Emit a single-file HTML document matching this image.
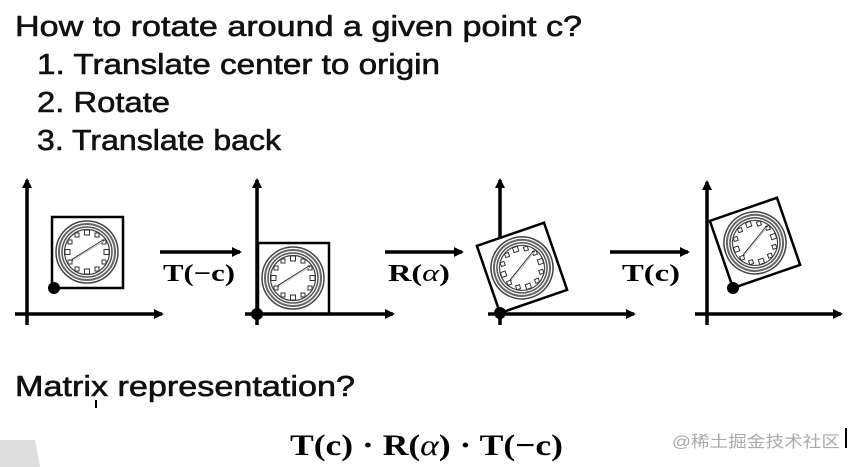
<!DOCTYPE html>
<html><head><style>
html,body{margin:0;padding:0;background:#fff;width:849px;height:467px;overflow:hidden}
svg{display:block}
</style></head><body>
<svg width="849" height="467" viewBox="0 0 849 467" xmlns="http://www.w3.org/2000/svg">
<defs>
<g id="clk">
<circle r="31" fill="#fff" stroke="#444" stroke-width="1.5"/>
<circle r="28" fill="none" stroke="#666" stroke-width="2"/>
<circle r="25" fill="none" stroke="#555" stroke-width="1.5"/>
<circle r="22.5" fill="#fff" stroke="#444" stroke-width="1.2"/>
<g fill="none" stroke="#333" stroke-width="1">
<rect x="-2.5" y="-22" width="5" height="5"/>
<rect x="-2.5" y="17" width="5" height="5"/>
<rect x="-22" y="-2.5" width="5" height="5"/>
<rect x="17" y="-2.5" width="5" height="5"/>
<rect x="8" y="-19" width="4" height="4"/>
<rect x="-12" y="-19" width="4" height="4"/>
<rect x="8" y="15" width="4" height="4"/>
<rect x="-12" y="15" width="4" height="4"/>
<rect x="15" y="-12" width="4" height="4"/>
<rect x="-19" y="-12" width="4" height="4"/>
<rect x="15" y="8" width="4" height="4"/>
<rect x="-19" y="8" width="4" height="4"/>
</g>
<line x1="-15" y1="8" x2="17" y2="-12" stroke="#333" stroke-width="2"/>
<line x1="-14" y1="8" x2="16" y2="-11" stroke="#fff" stroke-width="0.8"/>
</g>
<marker id="ah" markerWidth="10" markerHeight="10" refX="8" refY="5" orient="auto" markerUnits="userSpaceOnUse">
<path d="M0,0 L10,5 L0,10 z" fill="#000"/>
</marker>
</defs>

<g font-family="Liberation Sans, sans-serif" fill="#111" stroke="#111" stroke-width="0.6">
<text x="15" y="36" font-size="29" textLength="567" lengthAdjust="spacingAndGlyphs">How to rotate around a given point c?</text>
<text x="37" y="74" font-size="29" textLength="403" lengthAdjust="spacingAndGlyphs">1. Translate center to origin</text>
<text x="37" y="112" font-size="29" textLength="133" lengthAdjust="spacingAndGlyphs">2. Rotate</text>
<text x="37" y="150" font-size="29" textLength="244" lengthAdjust="spacingAndGlyphs">3. Translate back</text>
<text x="15" y="396" font-size="29" textLength="340" lengthAdjust="spacingAndGlyphs">Matrix representation?</text>
</g>

<g stroke="#000" stroke-width="3.5" fill="none" marker-end="url(#ah)">
<line x1="27" y1="325" x2="27" y2="180"/>
<line x1="15" y1="314" x2="162" y2="314"/>
<line x1="257" y1="325" x2="257" y2="180"/>
<line x1="245" y1="314" x2="393" y2="314"/>
<line x1="500" y1="325" x2="500" y2="180"/>
<line x1="488" y1="314" x2="634" y2="314"/>
<line x1="707" y1="325" x2="707" y2="182"/>
<line x1="695" y1="314" x2="841" y2="314"/>
<line x1="160" y1="252" x2="240" y2="252"/>
<line x1="385" y1="252" x2="462" y2="252"/>
<line x1="610" y1="252" x2="688" y2="252"/>
</g>

<!-- panel 1 -->
<rect x="52" y="217" width="71" height="71" fill="none" stroke="#000" stroke-width="2.5"/>
<use href="#clk" transform="translate(87,252)"/>
<circle cx="54" cy="288" r="6" fill="#000"/>
<!-- panel 2 -->
<rect x="258" y="243" width="71" height="71" fill="none" stroke="#000" stroke-width="2.5"/>
<use href="#clk" transform="translate(293,278)"/>
<circle cx="257" cy="314" r="6" fill="#000"/>
<!-- panel 3 -->
<g transform="translate(500,313) rotate(-19)">
<rect x="0" y="-71" width="71" height="71" fill="#fff" stroke="#000" stroke-width="2.5"/>
<use href="#clk" transform="translate(35.5,-35.5)"/>
</g>
<circle cx="500" cy="313" r="6" fill="#000"/>
<!-- panel 4 -->
<g transform="translate(733,288) rotate(-19)">
<rect x="0" y="-71" width="71" height="71" fill="#fff" stroke="#000" stroke-width="2.5"/>
<use href="#clk" transform="translate(35.5,-35.5)"/>
</g>
<circle cx="733" cy="288" r="6" fill="#000"/>

<g font-family="Liberation Serif, serif" font-weight="bold" font-size="24" fill="#000">
<text x="163" y="281" textLength="72" lengthAdjust="spacingAndGlyphs">T(−c)</text>
<text x="388" y="281" textLength="62" lengthAdjust="spacingAndGlyphs">R(<tspan font-weight="normal" font-style="italic">α</tspan>)</text>
<text x="622" y="281" textLength="58" lengthAdjust="spacingAndGlyphs">T(c)</text>
</g>
<text x="290" y="455" font-family="Liberation Serif, serif" font-weight="bold" font-size="30" textLength="273" lengthAdjust="spacingAndGlyphs">T(c) · R(<tspan font-weight="normal" font-style="italic">α</tspan>) · T(−c)</text>
<text x="672" y="447" font-family="Liberation Sans, 'Noto Sans CJK SC', sans-serif" font-size="16" fill="#aaa" textLength="168" lengthAdjust="spacingAndGlyphs">@稀土掘金技术社区</text>
<rect x="845" y="428" width="2" height="20" fill="#000"/>
<rect x="95" y="400" width="2" height="8" fill="#000"/>
<path d="M0,440 L35,440 L40,467 L0,467 z" fill="#ddd"/>
</svg>
</body></html>
